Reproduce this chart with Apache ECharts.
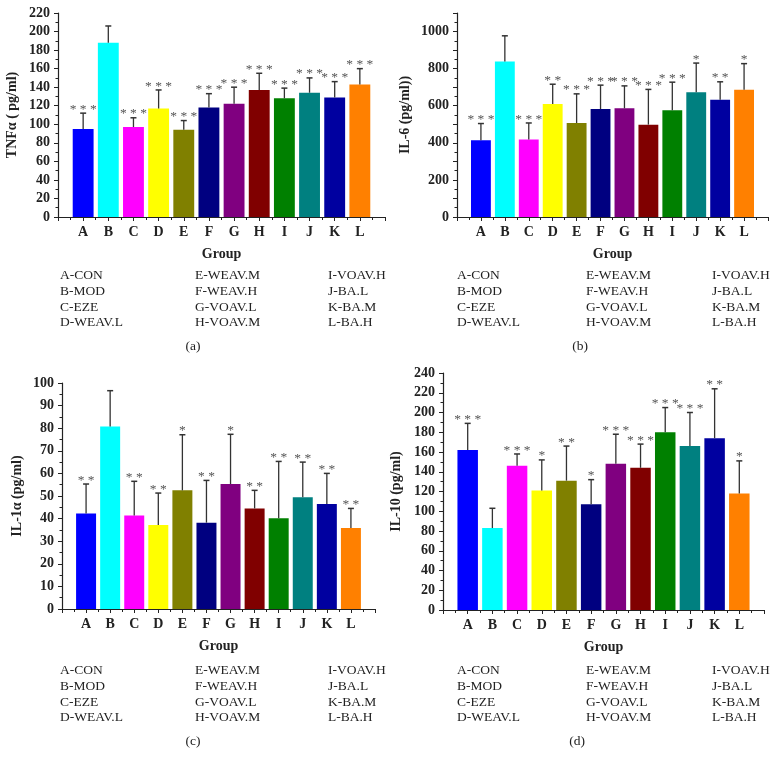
<!DOCTYPE html>
<html>
<head>
<meta charset="utf-8">
<script src="https://cdn.jsdelivr.net/npm/echarts@6/dist/echarts.min.js"></script>
<style>
  html, body { margin: 0; padding: 0; background: #fff; }
  #main { width: 776px; height: 768px; }
</style>
</head>
<body>
<div id="main"></div>
<script>
// ---------------- data ----------------
var groups = ["A", "B", "C", "D", "E", "F", "G", "H", "I", "J", "K", "L"];
var groupNames = ["A-CON", "B-MOD", "C-EZE", "D-WEAV.L", "E-WEAV.M", "F-WEAV.H",
                  "G-VOAV.L", "H-VOAV.M", "I-VOAV.H", "J-BA.L", "K-BA.M", "L-BA.H"];
var barColors = ["#0000ff", "#00ffff", "#ff00ff", "#ffff00", "#808000", "#000080",
                 "#800080", "#800000", "#008000", "#008080", "#0000a0", "#ff8000"];

var tnfMean = [95, 188, 97, 117, 94, 118, 122, 137, 128, 134, 129, 143];
var tnfSd   = [17, 18, 10, 20, 10, 15, 18, 18, 11, 16, 17, 17];
var tnfSig  = ["***", "", "***", "***", "***", "***", "***", "***", "***", "***", "***", "***"];

var il6Mean = [414, 838, 418, 609, 507, 582, 586, 498, 575, 673, 632, 686];
var il6Sd   = [90, 139, 89, 107, 157, 129, 121, 190, 152, 157, 97, 141];
var il6Sig  = ["***", "", "***", "**", "***", "***", "***", "***", "***", "*", "**", "*"];

var il1aMean = [42.3, 80.8, 41.4, 37.2, 52.5, 38.2, 55.3, 44.5, 40.1, 49.4, 46.5, 35.8];
var il1aSd   = [13.0, 15.8, 15.1, 14.1, 24.6, 18.7, 22.0, 8.0, 25.2, 15.6, 13.5, 8.7];
var il1aSig  = ["**", "", "**", "**", "*", "**", "*", "**", "**", "**", "**", "**"];

var il10Mean = [162, 83, 146, 121, 131, 107, 148, 144, 180, 166, 174, 118];
var il10Sd   = [27, 20, 12, 31, 35, 25, 30, 24, 25, 34, 50, 33];
var il10Sig  = ["***", "", "***", "*", "**", "*", "***", "***", "***", "***", "**", "*"];

// ---------------- helpers ----------------
var SERIF = "'Liberation Serif', 'Times New Roman', serif";
var myChart = echarts.init(document.getElementById("main"), null, { renderer: "canvas" });

function buildRows(mean, sd, sig) {
  return mean.map(function (m, i) {
    return [i + 1, m, sd[i], sig[i]];
  });
}

function renderBar(params, api) {
  var x = api.value(0);
  var y = api.value(1);
  var sd = api.value(2);
  var sig = api.value(3);
  var p0 = api.coord([x, 0]);
  var p1 = api.coord([x, y]);
  var p2 = api.coord([x, y + sd]);
  var w = api.size([1, 0])[0] * 0.83;
  var children = [
    {
      type: "rect",
      shape: { x: p1[0] - w / 2, y: p1[1], width: w, height: p0[1] - p1[1] },
      style: { fill: barColors[x - 1] }
    },
    {
      type: "line",
      shape: { x1: p1[0], y1: p1[1], x2: p2[0], y2: p2[1] },
      style: { stroke: "#333", lineWidth: 1.3 }
    },
    {
      type: "line",
      shape: { x1: p2[0] - 3, y1: p2[1], x2: p2[0] + 3, y2: p2[1] },
      style: { stroke: "#333", lineWidth: 1.5 }
    }
  ];
  if (sig) {
    children.push({
      type: "text",
      style: {
        x: p2[0], y: p2[1] - 4,
        text: sig.split("").join(" "),
        fill: "#555",
        font: "13.5px " + SERIF,
        align: "center",
        verticalAlign: "middle"
      }
    });
  }
  return { type: "group", children: children };
}

var grids = [
  { left: 58, top: 13, width: 327, height: 204 },
  { left: 457, top: 13, width: 311, height: 204 },
  { left: 62, top: 383, width: 313, height: 226 },
  { left: 443, top: 373, width: 321, height: 237 }
];

var panels = [
  { name: "TNFα ( pg/ml)", max: 220, interval: 20, labelStep: 20, mean: tnfMean, sd: tnfSd, sig: tnfSig, nameGap: 39 },
  { name: "IL-6 (pg/ml))", max: 1100, interval: 100, labelStep: 200, mean: il6Mean, sd: il6Sd, sig: il6Sig, nameGap: 45 },
  { name: "IL-1α (pg/ml)", max: 100, interval: 10, labelStep: 10, mean: il1aMean, sd: il1aSd, sig: il1aSig, nameGap: 38 },
  { name: "IL-10 (pg/ml)", max: 240, interval: 20, labelStep: 20, mean: il10Mean, sd: il10Sd, sig: il10Sig, nameGap: 40 }
];

var xAxes = [];
var yAxes = [];
var seriesList = [];

panels.forEach(function (p, i) {
  xAxes.push({
    gridIndex: i,
    type: "value",
    min: 0,
    max: 13,
    interval: 1,
    name: "Group",
    nameLocation: "middle",
    nameGap: 30,
    nameTextStyle: { fontFamily: SERIF, fontWeight: "bold", fontSize: 14, color: "#222" },
    axisLine: { show: true, onZero: false, lineStyle: { color: "#222", width: 1.2 } },
    axisTick: { show: true, length: 4, lineStyle: { color: "#222" } },
    minorTick: { show: true, splitNumber: 2, length: 3, lineStyle: { color: "#222" } },
    splitLine: { show: false },
    axisLabel: {
      fontFamily: SERIF, fontWeight: "bold", fontSize: 14, color: "#222", margin: 8,
      formatter: function (v) { return groups[v - 1] || ""; }
    }
  });
  yAxes.push({
    gridIndex: i,
    type: "value",
    min: 0,
    max: p.max,
    interval: p.interval,
    name: p.name,
    nameLocation: "middle",
    nameGap: p.nameGap,
    nameTextStyle: { fontFamily: SERIF, fontWeight: "bold", fontSize: 14, color: "#222" },
    axisLine: { show: true, lineStyle: { color: "#222", width: 1.2 } },
    axisTick: { show: true, length: 4, lineStyle: { color: "#222" } },
    minorTick: { show: true, splitNumber: 2, length: 2.5, lineStyle: { color: "#222" } },
    splitLine: { show: false },
    axisLabel: {
      fontFamily: SERIF, fontWeight: "bold", fontSize: 14, color: "#222", margin: 8,
      formatter: function (v) { return v % p.labelStep === 0 ? String(v) : ""; }
    }
  });
  seriesList.push({
    type: "custom",
    xAxisIndex: i,
    yAxisIndex: i,
    renderItem: renderBar,
    encode: { x: 0, y: 1 },
    data: buildRows(p.mean, p.sd, p.sig),
    clip: false,
    animation: false
  });
});

// ---------------- group legends and panel tags ----------------
var legendBlocks = [
  { cols: [60, 195, 328], top: 268, tag: "(a)", tagX: 193, tagY: 346 },
  { cols: [457, 586, 712], top: 268, tag: "(b)", tagX: 580, tagY: 346 },
  { cols: [60, 195, 328], top: 663, tag: "(c)", tagX: 193, tagY: 741 },
  { cols: [457, 586, 712], top: 663, tag: "(d)", tagX: 577, tagY: 741 }
];
var graphics = [];
legendBlocks.forEach(function (b) {
  for (var c = 0; c < 3; c++) {
    graphics.push({
      type: "text",
      left: b.cols[c],
      top: b.top,
      style: {
        text: groupNames.slice(c * 4, c * 4 + 4).join("\n"),
        font: "13.5px " + SERIF,
        lineHeight: 15.6,
        fill: "#222"
      }
    });
  }
  graphics.push({
    type: "text",
    x: b.tagX,
    y: b.tagY,
    style: {
      text: b.tag,
      font: "13.5px " + SERIF,
      fill: "#222",
      align: "center",
      verticalAlign: "middle"
    }
  });
});

var option = {
  backgroundColor: "#fff",
  animation: false,
  grid: grids,
  xAxis: xAxes,
  yAxis: yAxes,
  series: seriesList,
  graphic: graphics
};

myChart.setOption(option);
window.addEventListener("resize", myChart.resize);
</script>
</body>
</html>
